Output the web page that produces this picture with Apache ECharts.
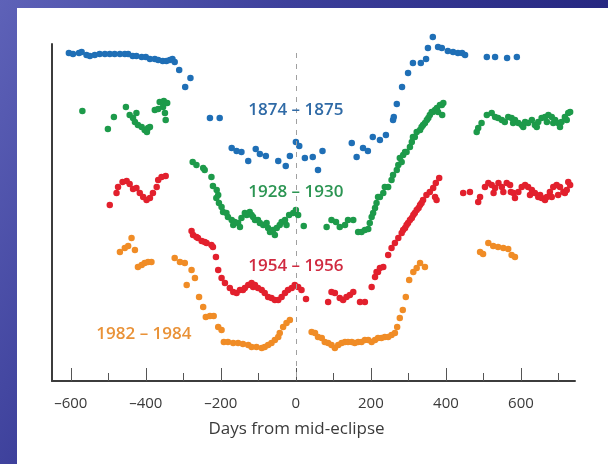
<!DOCTYPE html>
<html>
<head>
<meta charset="utf-8">
<script src="https://cdn.jsdelivr.net/npm/echarts@6/dist/echarts.min.js"></script>
<style>
  html, body { margin: 0; padding: 0; }
  body {
    width: 608px; height: 464px; overflow: hidden; position: relative;
    background: linear-gradient(120deg, #5e62b8 0%, #3d409b 33%, #13136b 100%);
  }
  #chart { position: absolute; left: 17px; top: 8px; width: 591px; height: 456px; background: #fff; }
</style>
</head>
<body>
<div id="chart"></div>
<script>
// Light curves of four eclipses, offset vertically (arbitrary brightness units)
const days1874 = [-605,-594,-578,-571,-558,-549,-536,-523,-509,-496,-483,-469,-456,-447,-435,-425,-411,-400,-389,-376,-367,-355,-345,-336,-329,-323,-311,-295,-281,
  -229,-203,-171,-158,-145,-127,-107,-96,-80,-47,-27,-16,0,9,24,45,59,71,
  149,162,179,192,205,224,240,259,261,269,283,299,312,333,347,352,365,379,389,405,419,432,443,451,509,531,563,589];
const val1874 = [328,327,328,329,326,325,326,327,327,327,327,327,327,327,325,325,324,324,322,322,321,320,320,321,322,319,311,294,303,
  263,263,233,230,229,220,232,227,225,220,215,225,239,235,223,224,211,230,
  238,224,233,230,244,241,246,261,264,277,294,308,318,318,322,333,344,334,333,330,329,328,328,326,324,324,323,324];

const days1928 = [-569,-501,-485,-453,-443,-434,-429,-425,-421,-411,-403,-397,-394,-389,-376,-367,-363,-354,-352,-349,-347,-343,
  -275,-265,-247,-243,-225,-221,-212,-207,-211,-205,-198,-194,-185,-181,-171,-167,-163,-154,-149,-145,-136,-131,-123,-118,-114,-109,-101,-96,-87,-78,-74,-69,-61,-56,-51,-43,-38,-29,-25,-18,-7,0,6,21,
  82,95,107,117,131,139,153,166,175,184,193,197,202,206,211,215,219,224,233,237,246,255,259,269,273,277,282,286,291,295,304,309,312,317,322,331,335,339,344,349,353,357,362,365,371,376,379,384,389,390,393,
  482,486,495,509,522,531,539,549,557,566,575,579,584,593,602,606,611,619,629,637,642,646,655,664,669,673,682,686,691,699,704,708,717,722,726,731];
const val1928 = [270,252,264,274,266,263,259,268,256,254,251,249,253,254,271,272,279,274,280,268,261,278,
  219,216,213,211,204,195,183,186,191,178,174,169,168,164,161,156,159,158,154,163,168,166,169,166,164,161,161,158,156,158,153,149,151,146,153,156,159,161,156,166,168,171,166,155,
  154,161,159,154,156,161,161,149,149,151,152,158,164,168,173,178,184,184,188,194,194,201,206,211,216,223,219,226,229,229,234,239,244,244,249,251,254,256,258,261,263,266,269,269,271,273,269,276,276,266,278,
  249,253,258,266,268,264,263,261,259,264,263,258,261,258,256,254,259,258,261,256,254,259,263,264,259,266,264,258,261,258,254,259,264,261,268,269];

const days1954 = [-496,-478,-474,-462,-451,-443,-434,-425,-416,-407,-398,-389,-381,-371,-367,-358,-347,
  -278,-274,-265,-261,-251,-243,-238,-225,-221,-213,-207,-198,-189,-176,-167,-158,-149,-141,-136,-127,-118,-114,-109,-101,-91,-83,-74,-65,-56,-47,-38,-29,-21,-11,-3,6,15,27,
  86,95,104,117,126,135,144,153,171,184,202,211,215,219,224,233,246,255,264,273,282,286,291,295,299,304,309,313,317,322,327,331,335,339,348,357,366,371,373,375,382,
  446,464,486,491,504,513,522,527,531,540,549,553,562,571,573,580,584,593,602,611,619,624,629,637,646,651,655,664,669,677,682,686,695,699,704,713,717,722,726,731];
const val1954 = [176,188,194,199,200,197,192,193,188,184,181,183,188,194,201,204,205,
  150,146,144,143,140,139,138,136,134,124,111,103,98,93,89,88,91,91,93,96,98,94,96,93,91,88,84,83,81,81,84,88,91,93,96,94,91,82,
  79,89,88,83,81,84,86,89,79,79,94,104,109,109,113,114,126,133,138,143,148,151,153,156,158,161,163,166,168,171,173,176,178,181,186,189,193,184,198,181,203,
  188,189,179,184,194,198,196,188,193,198,194,189,198,196,189,188,183,189,194,196,194,186,191,188,184,186,183,181,184,189,184,194,196,186,194,189,188,191,199,196];

const days1982 = [-469,-456,-447,-438,-429,-421,-411,-403,-394,-385,
  -323,-309,-296,-291,-278,-269,-258,-247,-240,-229,-219,-207,-198,-192,-181,-167,-154,-141,-127,-118,-105,-91,-83,-74,-65,-56,-47,-43,-34,-25,-16,
  42,51,59,69,77,86,95,104,113,122,131,139,149,157,166,175,184,193,202,211,219,228,237,246,255,264,270,277,285,293,302,313,322,331,344,
  491,499,513,526,539,553,566,575,584];
const val1982 = [129,133,135,143,131,114,116,118,119,119,
  123,119,118,96,111,103,84,74,64,65,65,54,51,39,39,38,38,37,36,34,34,33,34,36,38,41,44,48,54,58,61,
  49,48,44,43,39,38,36,33,36,38,39,39,39,38,39,39,41,41,39,41,43,43,44,44,46,48,54,63,71,84,101,109,113,118,114,
  129,127,138,135,134,133,132,126,124];

// Axis ticks and labels
const majorTicks = [-600, -400, -200, 0, 200, 400, 600];
const minorTicks = [-500, -300, -100, 100, 300, 500, 700];

// Period names placed inside the plot: [text, day, value]
const periodLabels = [
  ['1874 – 1875', 0, 271],
  ['1928 – 1930', 0, 189],
  ['1954 – 1956', 0, 115],
  ['1982 – 1984', -405, 47]
];

const colors = ['#1f6fb6', '#1d9a4a', '#e2202d', '#f08c26'];
const textColors = ['#2f6aa6', '#2c9553', '#d02a40', '#e99238'];

const zip = (xs, ys) => xs.map((x, i) => [x, ys[i]]);
const seriesData = [zip(days1874, val1874), zip(days1928, val1928), zip(days1954, val1954), zip(days1982, val1982)];

const fmt = v => (v < 0 ? '\u2013' + Math.abs(v) : String(v));
const font = '"Open Sans", "Liberation Sans", sans-serif';

const baseX = {
  type: 'value', min: -650, max: 744, position: 'bottom',
  splitLine: { show: false }
};

const chart = echarts.init(document.getElementById('chart'), null, { renderer: 'canvas' });
chart.setOption({
  animation: false,
  backgroundColor: '#ffffff',
  grid: { left: 35, right: 33, top: 36, bottom: 83 },
  xAxis: [
    Object.assign({}, baseX, {
      name: 'Days from mid-eclipse',
      nameLocation: 'middle',
      nameGap: 40,
      nameTextStyle: { fontFamily: font, fontSize: 17, color: '#3a3a3a', padding: [0, 34, 0, 0] },
      axisLine: { show: true, onZero: false, lineStyle: { color: '#3c3c3c', width: 2 } },
      axisTick: { show: true, inside: true, length: 13, customValues: majorTicks, lineStyle: { color: '#555', width: 1 } },
      axisLabel: { show: true, customValues: majorTicks, formatter: fmt, margin: 15, fontFamily: font, fontSize: 15, color: '#3a3a3a' }
    }),
    Object.assign({}, baseX, {
      axisLine: { show: false },
      axisTick: { show: true, inside: true, length: 8, customValues: minorTicks, lineStyle: { color: '#555', width: 1 } },
      axisLabel: { show: false }
    })
  ],
  yAxis: {
    type: 'value', min: 0, max: 337,
    axisLine: { show: true, onZero: false, lineStyle: { color: '#3c3c3c', width: 2 } },
    axisTick: { show: false },
    axisLabel: { show: false },
    splitLine: { show: false }
  },
  series: seriesData.map((d, i) => ({
    type: 'scatter',
    xAxisIndex: 0,
    data: d,
    clip: false,
    symbolSize: 6.5,
    itemStyle: { color: colors[i], opacity: 1 },
    markLine: i === 0 ? {
      silent: true,
      symbol: ['none', 'none'],
      label: { show: false },
      lineStyle: { color: '#a0a0a0', width: 1, type: [5, 6] },
      data: [[{ coord: [0, 328] }, { coord: [0, 0] }]]
    } : undefined,
    markPoint: {
      silent: true,
      symbol: 'circle',
      symbolSize: 0,
      data: [{
        coord: [periodLabels[i][1], periodLabels[i][2]],
        label: {
          show: true,
          formatter: periodLabels[i][0],
          position: 'inside',
          fontFamily: font,
          fontWeight: 600,
          fontSize: 17,
          color: textColors[i]
        }
      }]
    }
  }))
});
</script>
</body>
</html>
